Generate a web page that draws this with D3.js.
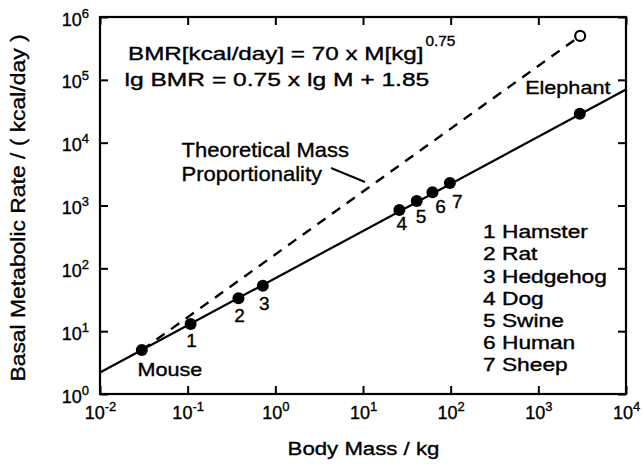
<!DOCTYPE html>
<html>
<head>
<meta charset="utf-8">
<script src="https://cdn.jsdelivr.net/npm/d3@7"></script>
<style>
  html, body { margin: 0; padding: 0; background: #fff; }
  svg { display: block; }
  text { font-family: "Liberation Sans", Arial, Helvetica, sans-serif; fill: #000; stroke: #000; stroke-width: 0.35px; }
</style>
</head>
<body>
<svg id="chart" width="642" height="464"></svg>
<script>
// ---------------- data ----------------
const animals   = ["Mouse", "Hamster", "Rat", "Hedgehog", "Dog", "Swine", "Human", "Sheep", "Elephant"];
const pointTags = ["Mouse", "1", "2", "3", "4", "5", "6", "7", "Elephant"];
const massKg    = [0.03, 0.108, 0.38, 0.72, 26, 41, 62, 98, 2970];
const bmrKcal   = [5.0, 13.0, 33.5, 53, 850, 1180, 1620, 2290, 28800];

// fitted allometric line  BMR = 70 * M^0.75  (end points)
const fitMass = [0.01, 10000];
const fitBmr  = [2.2, 70000];

// theoretical mass proportionality (mouse -> elephant mass)
const propMass = [0.03, 3000];
const propBmr  = [5.0, 500000];

const legendEntries = ["1 Hamster", "2 Rat", "3 Hedgehog", "4 Dog", "5 Swine", "6 Human", "7 Sheep"];

const xTickValues = [1e-2, 1e-1, 1e0, 1e1, 1e2, 1e3, 1e4];
const xTickExp    = ["-2", "-1", "0", "1", "2", "3", "4"];
const yTickValues = [1e0, 1e1, 1e2, 1e3, 1e4, 1e5, 1e6];
const yTickExp    = ["0", "1", "2", "3", "4", "5", "6"];

const formulaLine1 = "BMR[kcal/day] = 70 x M[kg]";
const formulaSup   = "0.75";
const formulaLine2 = "lg BMR = 0.75 x lg M + 1.85";
const calloutLines = ["Theoretical Mass", "Proportionality"];
const xTitle = "Body Mass / kg";
const yTitle = "Basal Metabolic Rate / ( kcal/day )";

// ---------------- layout ----------------
const L = 100, R = 626, T = 17, B = 394;
const svg = d3.select("#chart");

const x = d3.scaleLog().domain([1e-2, 1e4]).range([L, R]);
const y = d3.scaleLog().domain([1e0, 1e6]).range([B, T]);

// stretched text helper (reference typeface is wide)
function stext(g, str, px, py, size, sx, anchor, rot) {
  return g.append("text")
    .attr("transform", `translate(${px},${py})` + (rot ? ` rotate(${rot})` : "") + ` scale(${sx},1)`)
    .attr("font-size", size)
    .attr("text-anchor", anchor || "start")
    .text(str);
}

// ---------------- axes (inward ticks on all four sides) ----------------
function styleAxis(g) {
  g.select(".domain").remove();
  g.selectAll(".tick line").attr("stroke", "#000").attr("stroke-width", 2);
}

const gBottom = svg.append("g").attr("transform", `translate(0,${B})`)
  .call(d3.axisBottom(x).tickValues(xTickValues).tickSize(-8).tickPadding(25));
styleAxis(gBottom);
gBottom.selectAll(".tick text").each(function (d, i) {
  const t = d3.select(this).text(null).attr("dy", 0)
    .attr("font-size", 18).attr("font-family", null).attr("fill", "#000");
  t.append("tspan").text("10");
  t.append("tspan").attr("font-size", 13).attr("dy", -8).text(xTickExp[i]);
});

const gLeft = svg.append("g").attr("transform", `translate(${L},0)`)
  .call(d3.axisLeft(y).tickValues(yTickValues).tickSize(-8).tickPadding(11));
styleAxis(gLeft);
gLeft.selectAll(".tick text").each(function (d, i) {
  const t = d3.select(this).text(null).attr("dy", 8)
    .attr("font-size", 18).attr("font-family", null).attr("fill", "#000");
  t.append("tspan").text("10");
  t.append("tspan").attr("font-size", 13).attr("dy", -8).text(yTickExp[i]);
});

const gTop = svg.append("g").attr("transform", `translate(0,${T})`)
  .call(d3.axisTop(x).tickValues(xTickValues).tickSize(-8).tickFormat(""));
styleAxis(gTop);

const gRight = svg.append("g").attr("transform", `translate(${R},0)`)
  .call(d3.axisRight(y).tickValues(yTickValues).tickSize(-8).tickFormat(""));
styleAxis(gRight);

// frame
svg.append("rect").attr("x", L).attr("y", T).attr("width", R - L).attr("height", B - T)
  .attr("fill", "none").attr("stroke", "#000").attr("stroke-width", 2.2);

// ---------------- lines ----------------
const line = d3.line().x(d => x(d[0])).y(d => y(d[1]));

svg.append("path")
  .attr("d", line(propMass.map((m, i) => [m, propBmr[i]])))
  .attr("fill", "none").attr("stroke", "#000").attr("stroke-width", 2.4)
  .attr("stroke-dasharray", "10,8");

svg.append("path")
  .attr("d", line(fitMass.map((m, i) => [m, fitBmr[i]])))
  .attr("fill", "none").attr("stroke", "#000").attr("stroke-width", 2.2);

// callout leader
svg.append("line")
  .attr("x1", 331).attr("y1", 168).attr("x2", 365).attr("y2", 182)
  .attr("stroke", "#000").attr("stroke-width", 2);

// open circle (theoretical elephant value)
svg.append("circle")
  .attr("cx", x(propMass[1])).attr("cy", y(propBmr[1])).attr("r", 5)
  .attr("fill", "#fff").attr("stroke", "#000").attr("stroke-width", 2.2);

// data points
svg.append("g").selectAll("circle")
  .data(massKg.map((m, i) => ({ m, b: bmrKcal[i], tag: pointTags[i], name: animals[i] })))
  .join("circle")
  .attr("cx", d => x(d.m)).attr("cy", d => y(d.b)).attr("r", 6)
  .attr("fill", "#000");

// point labels (offsets relative to the marker)
const labelOffsets = {
  "Mouse": [28, 26, 18, 1.2], "1": [1, 23, 19, 1], "2": [1, 23.4, 19, 1], "3": [1.5, 24.3, 19, 1],
  "4": [2.5, 20, 19, 1], "5": [4.4, 22.3, 19, 1], "6": [8, 21, 19, 1], "7": [7.5, 25, 19, 1],
  "Elephant": [-12, -20, 18, 1.2]
};
const gLab = svg.append("g");
massKg.forEach((m, i) => {
  const o = labelOffsets[pointTags[i]];
  stext(gLab, pointTags[i], x(m) + o[0], y(bmrKcal[i]) + o[1], o[2], o[3], "middle");
});

// ---------------- texts ----------------
const gTxt = svg.append("g");
const f1 = stext(gTxt, formulaLine1, 128, 60, 18.5, 1.31, "start");
const f1w = f1.node().getComputedTextLength() * 1.31;
stext(gTxt, formulaSup, 128 + f1w + 2, 45.5, 14, 1.1, "start");
stext(gTxt, formulaLine2, 124.5, 86, 18.5, 1.33, "start");

stext(gTxt, calloutLines[0], 181.5, 156.5, 20, 1.1, "start");
stext(gTxt, calloutLines[1], 181.5, 181, 20, 1.1, "start");

// legend
legendEntries.forEach((s, i) => {
  stext(gTxt, s, 483, 238.2 + i * 22.15, 17.5, 1.3, "start");
});

// axis titles
stext(gTxt, xTitle, (L + R) / 2 + 0.5, 455, 19, 1.17, "middle");
stext(gTxt, yTitle, 25, 208, 21, 1.09, "middle", -90);
</script>
</body>
</html>
